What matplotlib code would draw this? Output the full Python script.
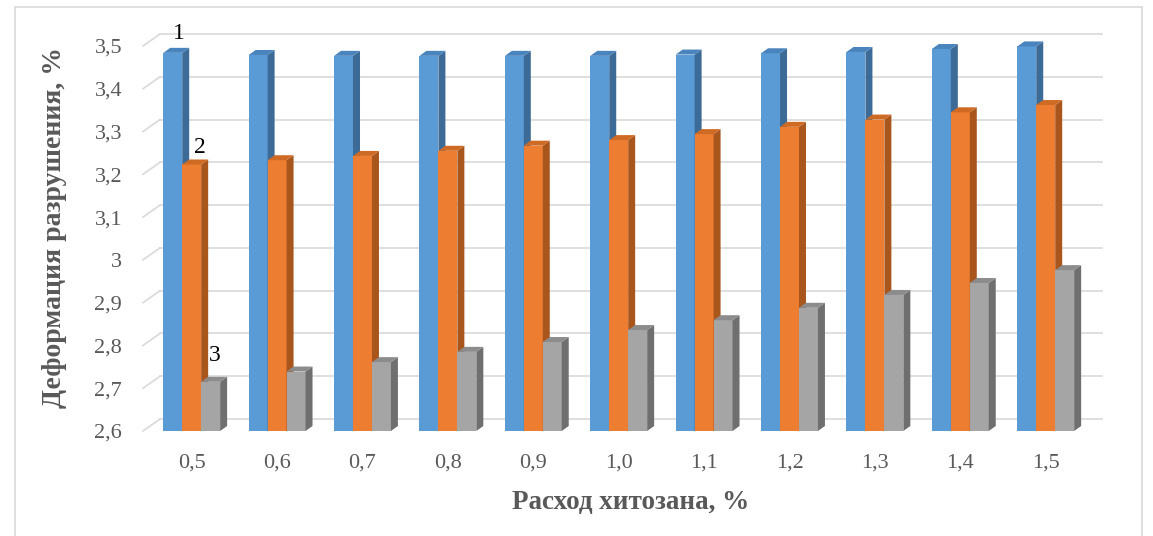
import matplotlib
matplotlib.use('Agg')
import matplotlib.pyplot as plt
import numpy as np
from matplotlib.patches import Polygon, Rectangle

# data
categories = ['0,5', '0,6', '0,7', '0,8', '0,9', '1,0', '1,1', '1,2', '1,3', '1,4', '1,5']
series_1 = [3.484, 3.479, 3.477, 3.477, 3.477, 3.477, 3.480, 3.483, 3.486, 3.493, 3.499]
series_2 = [3.223, 3.233, 3.243, 3.255, 3.267, 3.280, 3.294, 3.311, 3.328, 3.345, 3.362]
series_3 = [2.715, 2.739, 2.761, 2.785, 2.808, 2.836, 2.859, 2.888, 2.918, 2.946, 2.976]
series_names = ['1', '2', '3']
y_ticks = [2.6, 2.7, 2.8, 2.9, 3.0, 3.1, 3.2, 3.3, 3.4, 3.5]
y_tick_labels = ['2,6', '2,7', '2,8', '2,9', '3', '3,1', '3,2', '3,3', '3,4', '3,5']
x_title = 'Расход хитозана, %'
y_title = 'Деформация разрушения, %'

# front / side / top colours for each series
faces = [('#5b9bd5', '#3d6b97', '#4a84bd'),
         ('#ed7d31', '#a9561d', '#cf6a24'),
         ('#a5a5a5', '#6f6f6f', '#8c8c8c')]
text_grey = '#595959'
grid_grey = '#d9d9d9'
serif = 'Liberation Serif'

W, H = 1153, 536
fig = plt.figure(figsize=(W / 100, H / 100), dpi=100)
ax_l, ax_r, ax_t, ax_b = 143, 1085, 46, 431
ax = fig.add_axes([ax_l / W, (H - ax_b) / H, (ax_r - ax_l) / W, (ax_b - ax_t) / H])
xmin, xmax = -0.57, 10.46
ymin, ymax = 2.6, 3.5
ax.set_xlim(xmin, xmax)
ax.set_ylim(ymin, ymax)

# pixel -> data unit factors (fixed figure)
ux = (xmax - xmin) / (ax_r - ax_l)
uy = (ymax - ymin) / (ax_b - ax_t)

# back wall gridlines (shifted into depth) with the slanted ticks
wall_dx, wall_dy = 17, 12
for yv in y_ticks:
    ax.plot([wall_dx / (ax_r - ax_l), 1 + wall_dx / (ax_r - ax_l)],
            [yv + wall_dy * uy] * 2, transform=ax.get_yaxis_transform(),
            color=grid_grey, lw=1.2, clip_on=False, zorder=0.5)
    ax.plot([0, wall_dx / (ax_r - ax_l)], [yv, yv + wall_dy * uy],
            transform=ax.get_yaxis_transform(),
            color=grid_grey, lw=1.2, clip_on=False, zorder=0.5)

x = np.arange(len(categories))
width = 0.222
bar_dx, bar_dy = 7 * ux, 5 * uy
for i, vals in enumerate([series_1, series_2, series_3]):
    front, side, top = faces[i]
    pos = x + (i - 1) * width
    vals = np.array(vals)
    ax.bar(pos, vals - ymin, width=width, bottom=ymin, color=front,
           zorder=2 + i, linewidth=0)
    for xp, v in zip(pos, vals):
        xr = xp + width / 2
        xl = xp - width / 2
        ax.add_patch(Polygon([(xr, ymin), (xr + bar_dx, ymin + bar_dy),
                              (xr + bar_dx, v + bar_dy), (xr, v)],
                             closed=True, facecolor=side, lw=0,
                             zorder=2 + i, clip_on=False))
        ax.add_patch(Polygon([(xl, v), (xr, v), (xr + bar_dx, v + bar_dy),
                              (xl + bar_dx, v + bar_dy)],
                             closed=True, facecolor=top, lw=0,
                             zorder=2 + i, clip_on=False))
    # series number above the first bar
    ax.annotate(series_names[i], (pos[0], vals[0]),
                xytext=[(6, 19), (8, 17), (4, 26)][i], textcoords='offset pixels',
                ha='center', va='center', fontsize=17, family=serif,
                color='black', zorder=10, annotation_clip=False)

ax.set_yticks(y_ticks, y_tick_labels)
ax.set_xticks(x, categories)
ax.tick_params(axis='both', length=0, labelsize=16, labelcolor=text_grey)
ax.tick_params(axis='y', pad=15)
ax.tick_params(axis='x', pad=16)
for lab in ax.get_xticklabels() + ax.get_yticklabels():
    lab.set_family(serif)
for s in ax.spines.values():
    s.set_visible(False)
ax.patch.set_alpha(0)

ax.set_xlabel(x_title, fontsize=19.5, fontweight='bold', family=serif, color=text_grey)
ax.set_ylabel(y_title, fontsize=20, fontweight='bold', family=serif, color=text_grey)
ax.xaxis.set_label_coords((631 - ax_l) / (ax_r - ax_l), (ax_b - 503) / (ax_b - ax_t))
ax.yaxis.set_label_coords((55 - ax_l) / (ax_r - ax_l), (ax_b - 228) / (ax_b - ax_t))
ax.xaxis.label.set_va('center')
ax.yaxis.label.set_va('center')

# chart border
fig.patches.append(Rectangle((15 / W, -0.02), (1142 - 15) / W, 1.02 - 7 / H,
                             transform=fig.transFigure, fill=False,
                             edgecolor='#d9d9d9', lw=1.2))

fig.savefig('out.png', dpi=100)
